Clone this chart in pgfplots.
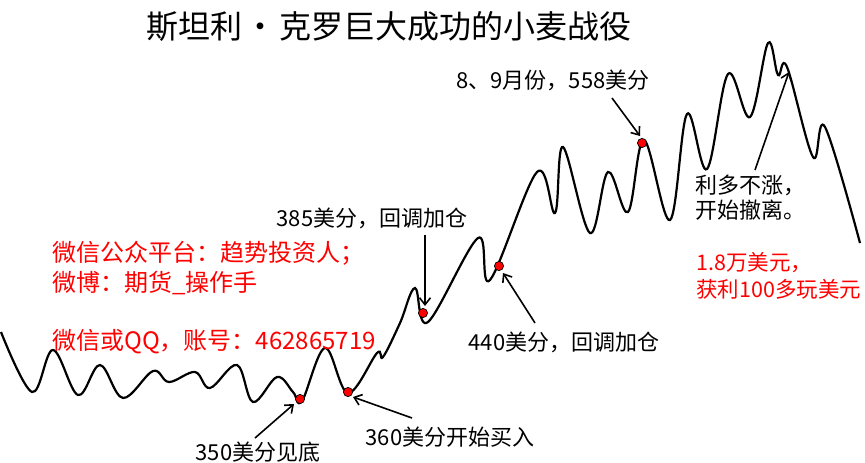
\documentclass[border=0pt]{standalone}
\usepackage{pgfplots}
\pgfplotsset{compat=1.18}
\usetikzlibrary{arrows.meta}
\usepackage{fontspec}
\setmainfont{Noto Sans CJK SC}
\definecolor{dotred}{RGB}{255,0,0}
\begin{document}
\begin{tikzpicture}
\begin{axis}[
  hide axis, scale only axis, width=865pt, height=463pt,
  xmin=0, xmax=865, ymin=0, ymax=463, y dir=reverse,
  clip=false,
]
\addplot[black, line width=2.2pt, smooth, tension=0.6] coordinates {
(1,332) (32,392) (53,350) (78,395) (100,365) (123,398) (153,371) (169,382)
(195,372) (210,388) (237,365) (253,402) (277,377) (293,392) (302,401)
(325,348) (348,393) (377,353) (383,357) (400,323) (415,288) (428,322)
(478,238) (490,280) (537,172) (555,213) (563,147) (590,233) (608,172)
(628,212) (644,140) (670,220) (687,114) (707,169) (728,74) (750,117)
(768,43) (778,75) (787,67) (813,157) (825,127) (860,243)
};
\addplot[only marks, mark=*, mark size=4.6pt, mark options={fill=dotred, draw=black, line width=0.7pt}] coordinates {
(300,399) (348,392) (423,313) (499,266) (642,143)
};
\begin{scope}[line width=1.6pt, -{Straight Barb[length=7pt,width=11pt]}]
\draw (axis cs:612,98) -- (axis cs:640,136);
\draw (axis cs:425,235) -- (axis cs:425,306);
\draw (axis cs:535,323) -- (axis cs:503,273);
\draw (axis cs:255,438) -- (axis cs:294,404);
\draw (axis cs:412,418) -- (axis cs:353,397);
\draw (axis cs:755,170) -- (axis cs:789,72);
\end{scope}
\node[font=\fontsize{32}{36}\selectfont] at (axis cs:389,27) {斯坦利\hspace{0.08em}·\hspace{0.08em}克罗巨大成功的小麦战役};
\begin{scope}[every node/.style={font=\fontsize{22}{26}\selectfont, inner sep=0pt}]
\node at (axis cs:553,80) {8、9月份，558美分};
\node at (axis cs:372,218) {385美分，回调加仓};
\node at (axis cs:564,342) {440美分，回调加仓};
\node at (axis cs:258,452) {350美分见底};
\node at (axis cs:450,437) {360美分开始买入};
\node[anchor=west] at (axis cs:695,185) {利多不涨，};
\node[anchor=west] at (axis cs:695,210) {开始撤离。};
\end{scope}
\begin{scope}[every node/.style={font=\fontsize{24}{28}\selectfont, inner sep=0pt, text=dotred, anchor=west}]
\node at (axis cs:52,253) {微信公众平台：趋势投资人；};
\node at (axis cs:52,283) {微博：期货\_操作手};
\node at (axis cs:52,342) {微信或QQ，账号：462865719};
\end{scope}
\begin{scope}[every node/.style={font=\fontsize{21.5}{26}\selectfont, inner sep=0pt, text=dotred, anchor=west}]
\node at (axis cs:696,263) {1.8万美元，};
\node at (axis cs:696,289) {获利100多玩美元};
\end{scope}
\end{axis}
\pgfresetboundingbox
\path (0,0) rectangle (865pt,463pt);
\end{tikzpicture}
\end{document}
